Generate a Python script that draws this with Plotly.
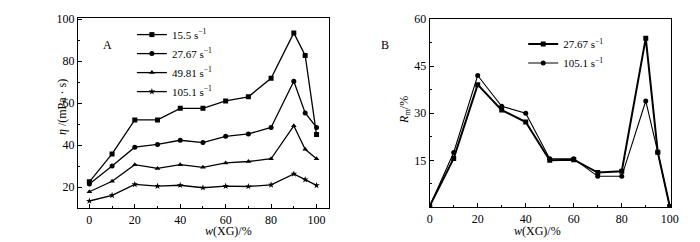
import plotly.graph_objects as go

# Panel A data
xA = [0, 10, 20, 30, 40, 50, 60, 70, 80, 90, 95, 100]
eta_155 = [22.5, 35.8, 52.0, 52.0, 57.5, 57.5, 61.0, 63.0, 71.8, 93.4, 82.7, 45.0]
eta_2767 = [21.5, 30.0, 39.0, 40.3, 42.3, 41.2, 44.2, 45.3, 48.4, 70.4, 55.3, 48.4]
eta_4981 = [17.8, 22.8, 30.7, 28.9, 30.7, 29.4, 31.5, 32.2, 33.5, 49.2, 38.0, 33.5]
eta_1051 = [13.4, 16.1, 21.3, 20.5, 20.9, 19.7, 20.5, 20.3, 21.1, 26.3, 23.6, 20.8]

# Panel B data
xB = [0, 10, 20, 30, 40, 50, 60, 70, 80, 90, 95, 100]
rm_2767 = [0.4, 15.6, 39.1, 31.0, 27.2, 15.0, 15.2, 11.1, 11.5, 53.9, 17.6, 0.3]
rm_1051 = [0.4, 17.5, 42.0, 32.2, 30.0, 15.5, 15.5, 9.9, 9.9, 33.9, 17.6, 0.3]

namesA = ["15.5 s<sup>−1</sup>", "27.67 s<sup>−1</sup>", "49.81 s<sup>−1</sup>", "105.1 s<sup>−1</sup>"]
namesB = ["27.67 s<sup>−1</sup>", "105.1 s<sup>−1</sup>"]

FONT = "Liberation Serif"
fig = go.Figure()

symA = ["square", "circle", "triangle-up", "star"]
sizeA = [5, 5, 5, 5]
for ys, nm, sy, sz in zip([eta_155, eta_2767, eta_4981, eta_1051], namesA, symA, sizeA):
    fig.add_trace(go.Scatter(x=xA, y=ys, name=nm, mode="lines+markers",
                             line=dict(color="black", width=1.3),
                             marker=dict(symbol=sy, size=sz, color="black"),
                             xaxis="x", yaxis="y", legend="legend"))

for ys, nm, sy, lw in zip([rm_2767, rm_1051], namesB, ["square", "circle"], [2, 1.1]):
    fig.add_trace(go.Scatter(x=xB, y=ys, name=nm, mode="lines+markers",
                             line=dict(color="black", width=lw),
                             marker=dict(symbol=sy, size=5, color="black"),
                             xaxis="x2", yaxis="y2", legend="legend2"))

axis_common = dict(showline=True, linecolor="black", linewidth=1, mirror=True,
                   ticks="inside", ticklen=4, tickcolor="black", showgrid=False,
                   zeroline=False, tickfont=dict(family=FONT, size=12, color="black"))
minor10 = dict(dtick=10, tick0=0, ticks="inside", ticklen=2, tickcolor="black")

fig.update_layout(
    width=700, height=242,
    margin=dict(l=0, r=0, t=0, b=0, pad=0, autoexpand=False),
    paper_bgcolor="white", plot_bgcolor="white",
    font=dict(family=FONT, size=12, color="black"),
    xaxis=dict(domain=[0.1, 0.4586], range=[-5, 105.5], tickvals=[0, 20, 40, 60, 80, 100],
               minor=minor10, anchor="y", **axis_common),
    yaxis=dict(domain=[0.173, 0.9587], range=[10, 100.5], tickvals=[20, 40, 60, 80, 100],
               minor=minor10, anchor="x", **axis_common),
    xaxis2=dict(domain=[0.6024, 0.9471], range=[0, 100.5], tickvals=[0, 20, 40, 60, 80, 100],
                minor=minor10, anchor="y2", **axis_common),
    yaxis2=dict(domain=[0.176, 0.9545], range=[0, 60], tickvals=[15, 30, 45, 60],
                minor=dict(dtick=7.5, tick0=0, ticks="inside", ticklen=2, tickcolor="black"),
                anchor="x2", **axis_common),
    legend=dict(x=0.177, y=0.95, xanchor="left", yanchor="top", bgcolor="rgba(0,0,0,0)",
                font=dict(family=FONT, size=11), itemwidth=30, tracegroupgap=0),
    legend2=dict(x=0.736, y=0.911, xanchor="left", yanchor="top", bgcolor="rgba(0,0,0,0)",
                 font=dict(family=FONT, size=11), itemwidth=30, tracegroupgap=0),
    annotations=[
        dict(text="A", x=0.133, y=0.885, xref="paper", yref="paper", showarrow=False,
             font=dict(family=FONT, size=12)),
        dict(text="B", x=0.539, y=0.885, xref="paper", yref="paper", showarrow=False,
             font=dict(family=FONT, size=12)),
        dict(text="<i>w</i>(XG)/%", x=0.279, y=0.042, xref="paper", yref="paper",
             showarrow=False, font=dict(family=FONT, size=12)),
        dict(text="<i>w</i>(XG)/%", x=0.793, y=0.042, xref="paper", yref="paper",
             showarrow=False, font=dict(family=FONT, size=12)),
        dict(text="<i>η</i> /(mPa · s)", x=0.064, y=0.59, xref="paper", yref="paper",
             textangle=-90, showarrow=False, font=dict(family=FONT, size=12)),
        dict(text="<i>R</i><sub>m</sub>/%", x=0.567, y=0.578, xref="paper", yref="paper",
             textangle=-90, showarrow=False, font=dict(family=FONT, size=12)),
    ],
    showlegend=True,
)

fig.write_html("out.html")
